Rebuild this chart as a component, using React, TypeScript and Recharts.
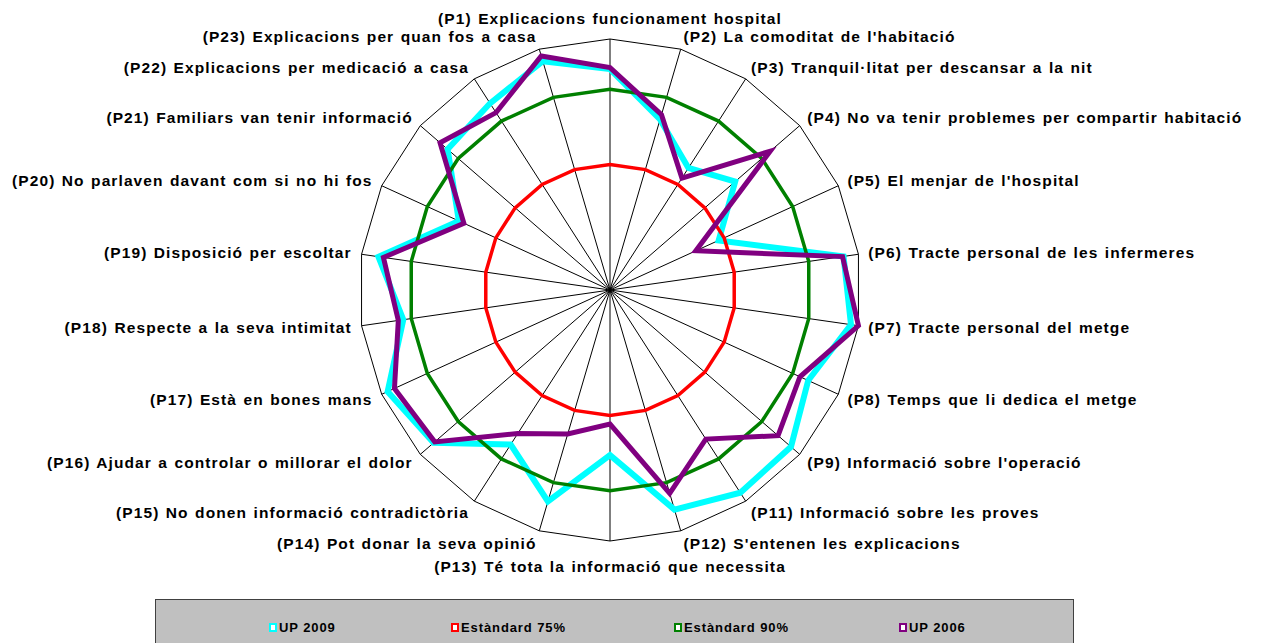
import { RadarChart, Radar, PolarGrid, PolarAngleAxis, PolarRadiusAxis } from 'recharts'

const CATEGORIES = [
  '(P1) Explicacions funcionament hospital',
  "(P2) La comoditat de l'habitació",
  '(P3) Tranquil·litat per descansar a la nit',
  '(P4) No va tenir problemes per compartir habitació',
  "(P5) El menjar de l'hospital",
  '(P6) Tracte personal de les infermeres',
  '(P7) Tracte personal del metge',
  '(P8) Temps que li dedica el metge',
  "(P9) Informació sobre l'operació",
  '(P11) Informació sobre les proves',
  "(P12) S'entenen les explicacions",
  '(P13) Té tota la informació que necessita',
  '(P14) Pot donar la seva opinió',
  '(P15) No donen informació contradictòria',
  '(P16) Ajudar a controlar o millorar el dolor',
  '(P17) Està en bones mans',
  '(P18) Respecte a la seva intimitat',
  '(P19) Disposició per escoltar',
  '(P20) No parlaven davant com si no hi fos',
  '(P21) Familiars van tenir informació',
  '(P22) Explicacions per medicació a casa',
  '(P23) Explicacions per quan fos a casa',
]

const UP_2009 = [94, 85.4, 78.9, 83, 73.8, 97, 98.5, 93.4, 97.7, 98, 95.6, 82.9, 93.9, 86.6, 96.5, 98.7, 91.6, 96.6, 83.1, 92.8, 94.2, 97.5]
const STD_75 = [75, 75, 75, 75, 75, 75, 75, 75, 75, 75, 75, 75, 75, 75, 75, 75, 75, 75, 75, 75, 75, 75]
const STD_90 = [90, 90, 90, 90, 90, 90, 90, 90, 90, 90, 90, 90, 90, 90, 90, 90, 90, 90, 90, 90, 90, 90]
const UP_2006 = [94.3, 86.4, 76.5, 92.2, 68.8, 96.8, 100, 91.6, 94.3, 85.3, 92.2, 76.7, 79.9, 84, 96.2, 97.2, 92.6, 95.6, 82, 94.8, 92, 98.6]

const SERIES = [
  { key: 'up2009', name: 'UP 2009', color: '#00FFFF', width: 6 },
  { key: 'std75', name: 'Estàndard 75%', color: '#FF0000', width: 3.5 },
  { key: 'std90', name: 'Estàndard 90%', color: '#008000', width: 3.5 },
  { key: 'up2006', name: 'UP 2006', color: '#800080', width: 5 },
]

const data = CATEGORIES.map((name, i) => ({
  name,
  up2009: UP_2009[i],
  std75: STD_75[i],
  std90: STD_90[i],
  up2006: UP_2006[i],
}))

const FONT = '"Liberation Sans", Arial, sans-serif'
const LEGEND_LEFT = [113, 295, 518, 743]

const AngleTick = (props: any) => {
  const { x, y, payload } = props
  const rad = (-payload.coordinate * Math.PI) / 180
  const dx = Math.cos(rad)
  const dy = Math.sin(rad)
  let tx = x + dx * 2
  let ty = y + dy * 2
  let anchor = 'middle'
  if (Math.abs(dx) < 0.05) {
    ty += dy < 0 ? -11 : 15
  } else {
    anchor = dx > 0 ? 'start' : 'end'
    ty += dy * 3
  }
  return (
    <text
      x={tx}
      y={ty}
      textAnchor={anchor}
      dominantBaseline="central"
      fontFamily={FONT}
      fontWeight="bold"
      fontSize={15.5}
      letterSpacing={1.1}
      wordSpacing={1}
      fill="#000"
    >
      {payload.value}
    </text>
  )
}

export default function App() {
  return (
    <div style={{ position: 'fixed', left: 0, top: 0, width: 1262, height: 643, overflow: 'hidden', background: '#fff' }}>
      <RadarChart
        width={1262}
        height={643}
        data={data}
        cx={610}
        cy={290}
        outerRadius={251}
        margin={{ top: 0, right: 0, bottom: 0, left: 0 }}
      >
        <PolarGrid gridType="polygon" polarRadius={[251]} stroke="#000" strokeWidth={1} />
        <PolarAngleAxis dataKey="name" tick={<AngleTick />} tickLine={false} axisLine={false} />
        <PolarRadiusAxis domain={[50, 100]} tick={false} axisLine={false} tickCount={2} />
        {SERIES.map((s) => (
          <Radar
            key={s.key}
            name={s.name}
            dataKey={s.key}
            stroke={s.color}
            strokeWidth={s.width}
            fill="none"
            fillOpacity={0}
            dot={false}
            isAnimationActive={false}
          />
        ))}
      </RadarChart>

      {/* Legend */}
      <div
        style={{
          position: 'absolute',
          left: 155,
          top: 599,
          width: 919,
          height: 44,
          background: '#C0C0C0',
          border: '1px solid #404040',
          borderBottom: 'none',
          boxSizing: 'border-box',
        }}
      >
        {SERIES.map((s, i) => (
          <div
            key={s.key}
            style={{
              position: 'absolute',
              left: LEGEND_LEFT[i],
              top: 20,
              display: 'flex',
              alignItems: 'center',
              gap: 2,
              fontFamily: FONT,
              fontWeight: 'bold',
              fontSize: 13,
              color: '#000',
              lineHeight: '15px',
            }}
          >
            <span
              style={{
                display: 'inline-block',
                width: 8,
                height: 9,
                boxSizing: 'border-box',
                border: `2px solid ${s.color}`,
                background: '#fff',
              }}
            />
            <span style={{ letterSpacing: 0.9 }}>{s.name}</span>
          </div>
        ))}
      </div>
    </div>
  )
}
